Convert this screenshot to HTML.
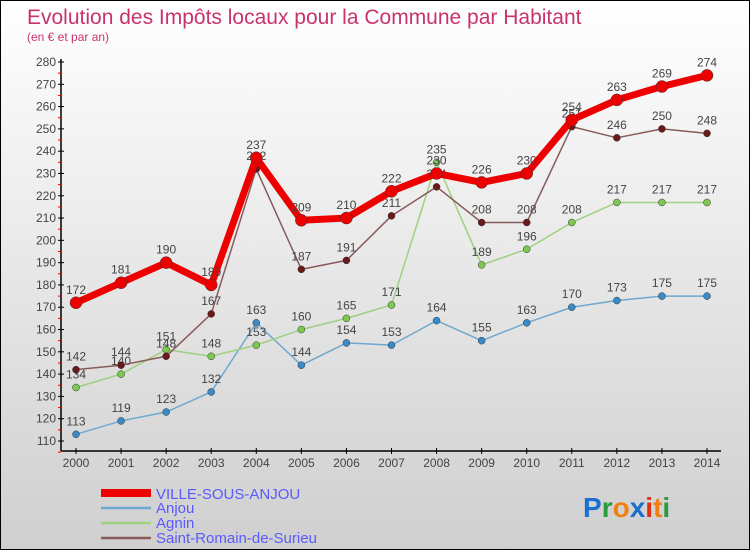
<!DOCTYPE html>
<html><head><meta charset="utf-8"><style>
html,body{margin:0;padding:0}
body{width:750px;height:550px;overflow:hidden;font-family:"Liberation Sans",sans-serif}
#wrap{position:relative;width:748px;height:548px;border:1px solid #000;background:linear-gradient(#fff,#cfcfcf)}
</style></head><body>
<div id="wrap">
<svg id="chart" width="748" height="548" style="position:absolute;left:0;top:0">
<text x="26" y="23" font-size="21" fill="#c8336e">Evolution des Impôts locaux pour la Commune par Habitant</text>
<text x="26" y="40" font-size="12" fill="#c8336e">(en € et par an)</text>
<g id="axes"></g><g id="series"></g>
<g>
<line x1="100" y1="492" x2="150" y2="492" stroke="#e00" stroke-width="8"/>
<text x="155" y="498" font-size="15" fill="#5a5aff">VILLE-SOUS-ANJOU</text>
<line x1="100" y1="507" x2="150" y2="507" stroke="#6fa8d0" stroke-width="2.5"/>
<text x="155" y="512" font-size="15" fill="#5a5aff">Anjou</text>
<line x1="100" y1="522" x2="150" y2="522" stroke="#a0d080" stroke-width="2.5"/>
<text x="155" y="527" font-size="15" fill="#5a5aff">Agnin</text>
<line x1="100" y1="537" x2="150" y2="537" stroke="#8a5a5a" stroke-width="2.5"/>
<text x="155" y="542" font-size="15" fill="#5a5aff">Saint-Romain-de-Surieu</text>
</g>
<text x="582" y="516" font-size="28" font-weight="bold"><tspan fill="#1a6fd0">P</tspan><tspan fill="#2a9a3a">r</tspan><tspan fill="#f08010">o</tspan><tspan fill="#1a6fd0">x</tspan><tspan fill="#e03010">i</tspan><tspan fill="#f08010">t</tspan><tspan fill="#2a9a3a">i</tspan></text>
</svg>
</div>
<script>
const years=[2000,2001,2002,2003,2004,2005,2006,2007,2008,2009,2010,2011,2012,2013,2014];
const villeSousAnjou=[172,181,190,180,237,209,210,222,230,226,230,254,263,269,274];
const anjou=[113,119,123,132,163,144,154,153,164,155,163,170,173,175,175];
const agnin=[134,140,151,148,153,160,165,171,235,189,196,208,217,217,217];
const saintRomain=[142,144,148,167,232,187,191,211,224,208,208,251,246,250,248];
const yTicks=[110,120,130,140,150,160,170,180,190,200,210,220,230,240,250,260,270,280];
const NS="http://www.w3.org/2000/svg";
const xS=i=>75+i*(706-75)/14;
const yS=v=>440-(v-110)*(440-61)/170;
function mk(tag,attrs,parent){const e=document.createElementNS(NS,tag);for(const k in attrs)e.setAttribute(k,attrs[k]);parent.appendChild(e);return e;}
const ax=document.getElementById('axes');
let a=mk('line',{x1:60,y1:58,x2:60,y2:450,stroke:'#000','stroke-width':1.5},ax);


a=mk('line',{x1:60,y1:450,x2:720,y2:450,stroke:'#000','stroke-width':1.5},ax);


yTicks.forEach(v=>{const y=yS(v);
 mk('line',{x1:57,y1:y,x2:63,y2:y,stroke:'#000'},ax);
 mk('line',{x1:57,y1:y+11.15,x2:60,y2:y+11.15,stroke:'#e00'},ax);
 const t=mk('text',{x:55,y:y+4,'font-size':12,fill:'#444','text-anchor':'end'},ax);t.textContent=v;
 
 });
years.forEach((yr,i)=>{const x=xS(i);
 mk('line',{x1:x,y1:447,x2:x,y2:453,stroke:'#000'},ax);
 const t=mk('text',{x:x,y:466,'font-size':12,fill:'#444','text-anchor':'middle'},ax);t.textContent=yr;
 
 });
const sg=document.getElementById('series');
function draw(data,name,color,dot,w,r){
 const g=mk('g',{},sg);
 
 
 const p=mk('polyline',{points:data.map((v,i)=>xS(i)+','+yS(v)).join(' '),fill:'none',stroke:color,'stroke-width':w,'stroke-linejoin':'round'},g);
 
 
 data.forEach((v,i)=>{const c=mk('circle',{cx:xS(i),cy:yS(v),r:r,fill:dot,stroke:'#333','stroke-width':0.5},g);
  
  
  const t=mk('text',{x:xS(i),y:yS(v)-9,'font-size':12,fill:'#444','text-anchor':'middle'},g);t.textContent=v;
  
  });
}
draw(anjou,'anjou','#6fa8d0','#3a8ac8',1.5,3.5);
draw(agnin,'agnin','#a0d080','#7cc850',1.5,3.5);
draw(saintRomain,'saint-romain','#8a5a5a','#6a1a1a',1.5,3.5);
draw(villeSousAnjou,'ville-sous-anjou','#ee0000','#ee0000',7,6);
</script>
</body></html>
